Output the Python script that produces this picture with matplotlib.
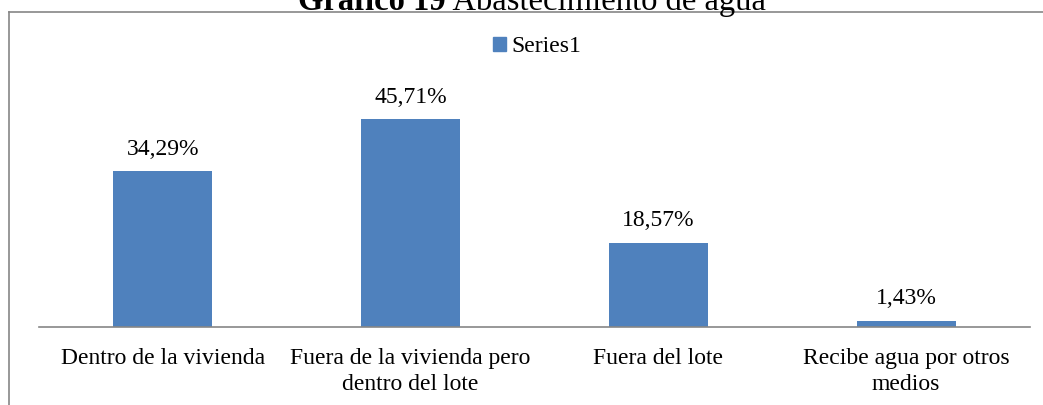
import matplotlib.pyplot as plt
from matplotlib.lines import Line2D
from matplotlib.patches import Patch

categories = ["Dentro de la vivienda", "Fuera de la vivienda pero\ndentro del lote",
              "Fuera del lote", "Recibe agua por otros\nmedios"]
values = [34.29, 45.71, 18.57, 1.43]
labels = ["34,29%", "45,71%", "18,57%", "1,43%"]

plt.rcParams['font.family'] = ['Liberation Serif', 'DejaVu Serif']

W, H = 1043, 405
fig = plt.figure(figsize=(W / 100, H / 100), dpi=100)

# axes placed in pixel terms: x 39..1030, baseline at y=327, 50% at y=100
ax = fig.add_axes([39 / W, 1 - 327 / H, (1030 - 39) / W, 227 / H])
x = range(len(values))
ax.bar(x, values, width=0.4, color='#4f81bd')
for i, v in enumerate(values):
    ax.text(i, v + 2.6, labels[i], ha='center', va='bottom', fontsize=17)

ax.set_xlim(-0.5, 3.5)
ax.set_ylim(0, 50)
ax.set_xticks(list(x))
ax.set_xticklabels(categories, fontsize=17, linespacing=1.3)
ax.tick_params(axis='x', length=0, pad=15)
ax.set_yticks([])
for s in ['top', 'right', 'left']:
    ax.spines[s].set_visible(False)
ax.spines['bottom'].set_color('#868686')
ax.spines['bottom'].set_linewidth(1.2)

# legend
fig.legend(handles=[Patch(color='#4f81bd', label='Series1')], loc='center',
           bbox_to_anchor=(537 / W, 1 - 47 / H), frameon=False, fontsize=17,
           handlelength=0.55, handleheight=0.55, handletextpad=0.2)

# chart border (cut by image edges)
fig.add_artist(Line2D([9 / W, 9 / W], [0, 1 - 12 / H], transform=fig.transFigure,
                      color='#868686', lw=1.2))
fig.add_artist(Line2D([9 / W, 1], [1 - 12 / H, 1 - 12 / H], transform=fig.transFigure,
                      color='#868686', lw=1.2))

# title, mostly cut off at the top as in the source
fig.text(446 / W, 1 - 10 / H, "Gráfico 19", ha='right', va='baseline',
         fontsize=23.5, fontweight='bold')
fig.text(446 / W, 1 - 10 / H, " Abastecimiento de agua", ha='left', va='baseline',
         fontsize=23.5)

fig.savefig('out.png', dpi=100)
